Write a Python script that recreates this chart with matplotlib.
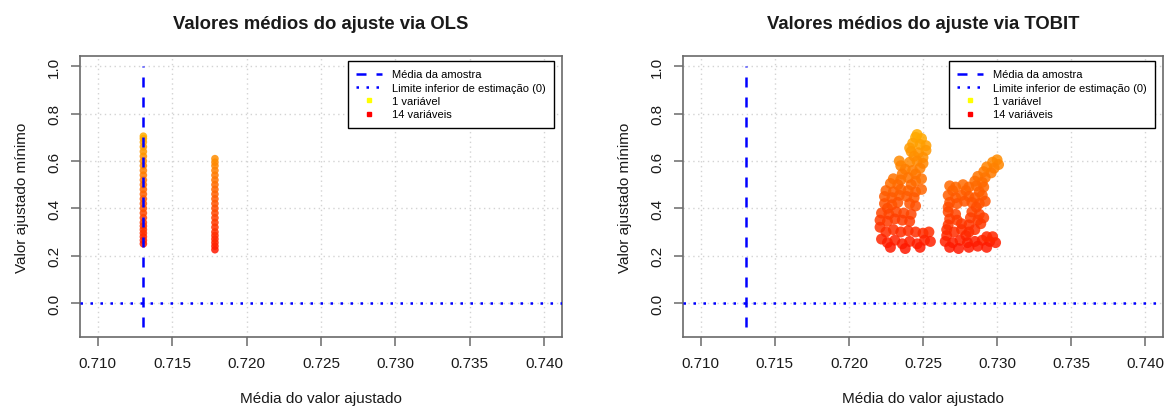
import matplotlib
matplotlib.use("Agg")
import matplotlib.pyplot as plt
from matplotlib.lines import Line2D
from matplotlib.colors import Normalize
import numpy as np

plt.rcParams['font.family'] = ['Liberation Sans', 'DejaVu Sans']

# ---------------- data ----------------
sample_mean = 0.71305
x_ticks = [0.710, 0.715, 0.720, 0.725, 0.730, 0.735, 0.740]
y_ticks = [0.0, 0.2, 0.4, 0.6, 0.8, 1.0]
x_limits = (0.7088, 0.7412)
y_limits = (-0.144, 1.044)
mean_line_span = (-0.1, 1.0)

# OLS: fitted mean is constant per model size -> two vertical columns
ols_col1_x = 0.71306
ols_col1_y = [0.250, 0.265, 0.280, 0.295, 0.310, 0.325, 0.340, 0.360, 0.380, 0.400,
              0.420, 0.440, 0.460, 0.480, 0.500, 0.520, 0.540, 0.560, 0.580, 0.600,
              0.620, 0.640, 0.660, 0.680, 0.695, 0.705]
ols_col2_x = 0.71787
ols_col2_y = [0.225, 0.240, 0.255, 0.270, 0.285, 0.300, 0.320, 0.340, 0.360, 0.380,
              0.400, 0.420, 0.440, 0.460, 0.480, 0.500, 0.520, 0.540, 0.560, 0.580,
              0.595, 0.610]

# TOBIT: two irregular clouds
tobit_a = [
    (0.7246, 0.712), (0.7249, 0.695), (0.7245, 0.700),
    (0.7243, 0.675), (0.7248, 0.670), (0.7252, 0.665), (0.7241, 0.655),
    (0.7242, 0.640), (0.7247, 0.635), (0.7252, 0.645), (0.7244, 0.620), (0.7250, 0.615),
    (0.7234, 0.600), (0.7235, 0.580), (0.7241, 0.595), (0.7246, 0.600), (0.7250, 0.590),
    (0.7238, 0.565), (0.7243, 0.560), (0.7248, 0.570), (0.7236, 0.545), (0.7245, 0.545),
    (0.7230, 0.525), (0.7235, 0.520), (0.7240, 0.530), (0.7245, 0.515), (0.7249, 0.525),
    (0.7233, 0.500), (0.7242, 0.500), (0.7228, 0.505),
    (0.7225, 0.475), (0.7230, 0.470), (0.7235, 0.480), (0.7240, 0.475), (0.7245, 0.470),
    (0.7249, 0.480), (0.7224, 0.450), (0.7229, 0.445), (0.7234, 0.455), (0.7239, 0.450),
    (0.7244, 0.445),
    (0.7224, 0.420), (0.7229, 0.415), (0.7233, 0.425), (0.7241, 0.420), (0.7245, 0.410),
    (0.7226, 0.400),
    (0.7222, 0.380), (0.7227, 0.375), (0.7232, 0.385), (0.7237, 0.380), (0.7242, 0.375),
    (0.7221, 0.350), (0.7226, 0.345), (0.7231, 0.355), (0.7236, 0.350), (0.7241, 0.345),
    (0.7221, 0.320), (0.7225, 0.300), (0.7230, 0.310), (0.7235, 0.300), (0.7240, 0.305),
    (0.7245, 0.300), (0.7250, 0.295), (0.7254, 0.300),
    (0.7222, 0.270), (0.7226, 0.255), (0.7231, 0.265), (0.7236, 0.250), (0.7241, 0.260),
    (0.7246, 0.250), (0.7251, 0.265), (0.7255, 0.260), (0.7228, 0.235), (0.7238, 0.230),
    (0.7248, 0.235),
]
tobit_b = [
    (0.7300, 0.605), (0.7297, 0.595), (0.7301, 0.585),
    (0.7293, 0.575), (0.7298, 0.570), (0.7291, 0.555), (0.7296, 0.550),
    (0.7287, 0.535), (0.7292, 0.530), (0.7285, 0.515), (0.7290, 0.510),
    (0.7268, 0.495), (0.7272, 0.490), (0.7277, 0.500), (0.7281, 0.490), (0.7286, 0.495),
    (0.7291, 0.490), (0.7270, 0.475), (0.7279, 0.475), (0.7288, 0.470),
    (0.7267, 0.455), (0.7272, 0.445), (0.7276, 0.455), (0.7281, 0.450), (0.7285, 0.445),
    (0.7290, 0.455), (0.7268, 0.425), (0.7273, 0.420), (0.7278, 0.430), (0.7283, 0.425),
    (0.7288, 0.420), (0.7292, 0.430), (0.7267, 0.405), (0.7286, 0.405),
    (0.7267, 0.385), (0.7272, 0.375), (0.7283, 0.385), (0.7288, 0.375),
    (0.7268, 0.355), (0.7273, 0.350), (0.7282, 0.360), (0.7287, 0.350), (0.7291, 0.360),
    (0.7267, 0.330), (0.7276, 0.335), (0.7281, 0.330), (0.7289, 0.335),
    (0.7266, 0.310), (0.7271, 0.300), (0.7276, 0.310), (0.7281, 0.300), (0.7285, 0.310),
    (0.7266, 0.285), (0.7279, 0.285),
    (0.7265, 0.260), (0.7270, 0.255), (0.7275, 0.265), (0.7280, 0.255), (0.7285, 0.260),
    (0.7290, 0.265), (0.7295, 0.260), (0.7299, 0.255), (0.7268, 0.235), (0.7274, 0.230),
    (0.7281, 0.235), (0.7287, 0.240), (0.7293, 0.235), (0.7297, 0.280), (0.7293, 0.280),
]

titles = ["Valores médios do ajuste via OLS", "Valores médios do ajuste via TOBIT"]
x_label = "Média do valor ajustado"
y_label = "Valor ajustado mínimo"
legend_labels = ["Média da amostra", "Limite inferior de estimação (0)",
                 "1 variável", "14 variáveis"]

# ---------------- plot ----------------
W, H = 1165, 410
fig = plt.figure(figsize=(W / 100, H / 100), dpi=100)
ax1 = fig.add_axes([80 / W, 1 - 338 / H, 482 / W, 281 / H])
ax2 = fig.add_axes([683 / W, 1 - 338 / H, 480 / W, 281 / H])

cmap = plt.get_cmap('autumn')
norm = Normalize(vmin=0.15, vmax=0.98)
spine_col = '#6a6a6a'
text_col = '#1a1a1a'

ols_x = [ols_col1_x] * len(ols_col1_y) + [ols_col2_x] * len(ols_col2_y)
ols_y = ols_col1_y + ols_col2_y
tb = tobit_a + tobit_b
tb_x = [p[0] for p in tb]
tb_y = [p[1] for p in tb]

datasets = [(ols_x, ols_y, 30), (tb_x, tb_y, 62)]

for ax, (xs, ys, msize), title in zip([ax1, ax2], datasets, titles):
    ax.set_xlim(*x_limits)
    ax.set_ylim(*y_limits)
    ax.set_xticks(x_ticks)
    ax.set_xticklabels([f"{v:.3f}" for v in x_ticks])
    ax.set_yticks(y_ticks)
    ax.set_yticklabels([f"{v:.1f}" for v in y_ticks])
    ax.grid(True, color='#d3d3d3', linestyle=(0, (1, 2.5)), lw=1)
    ax.set_axisbelow(True)
    for s in ax.spines.values():
        s.set_color(spine_col)
        s.set_linewidth(1.2)
    ax.tick_params(axis='both', length=6.5, width=1.1, color=spine_col,
                   labelsize=11, labelcolor=text_col, pad=7)
    for lab in ax.get_yticklabels():
        lab.set_rotation(90)
        lab.set_va('center')
    ax.scatter(xs, ys, c=cmap(norm(np.array(ys))), s=msize, alpha=0.85,
               edgecolors='none', zorder=3)
    ax.vlines(sample_mean, mean_line_span[0], mean_line_span[1], colors='#0000ff',
              linestyles=(0, (4, 4)), lw=1.8, zorder=4)
    ax.axhline(0.0, color='#0000ff', linestyle=(0, (1, 3)), lw=1.8, zorder=4)
    ax.set_title(title, fontsize=13.3, fontweight='bold', color=text_col, pad=20)
    ax.set_xlabel(x_label, fontsize=11, color=text_col, labelpad=15)
    ax.set_ylabel(y_label, fontsize=11, color=text_col, labelpad=13)

    handles = [
        Line2D([], [], color='#0000ff', lw=1.8, linestyle=(0, (4, 4))),
        Line2D([], [], color='#0000ff', lw=1.8, linestyle=(0, (1, 3))),
        Line2D([], [], color='#ffff00', marker='s', markersize=3.5, lw=0),
        Line2D([], [], color='#ff0000', marker='s', markersize=3.5, lw=0),
    ]
    leg = ax.legend(handles, legend_labels, loc='upper right',
                    bbox_to_anchor=(0.983, 0.982), fontsize=8,
                    frameon=True, fancybox=False, edgecolor='black',
                    framealpha=1, borderpad=0.75, labelspacing=0.3,
                    handlelength=2.3, handletextpad=0.9, borderaxespad=0)
    leg.get_frame().set_linewidth(1.0)

fig.savefig("out.png", dpi=100)
